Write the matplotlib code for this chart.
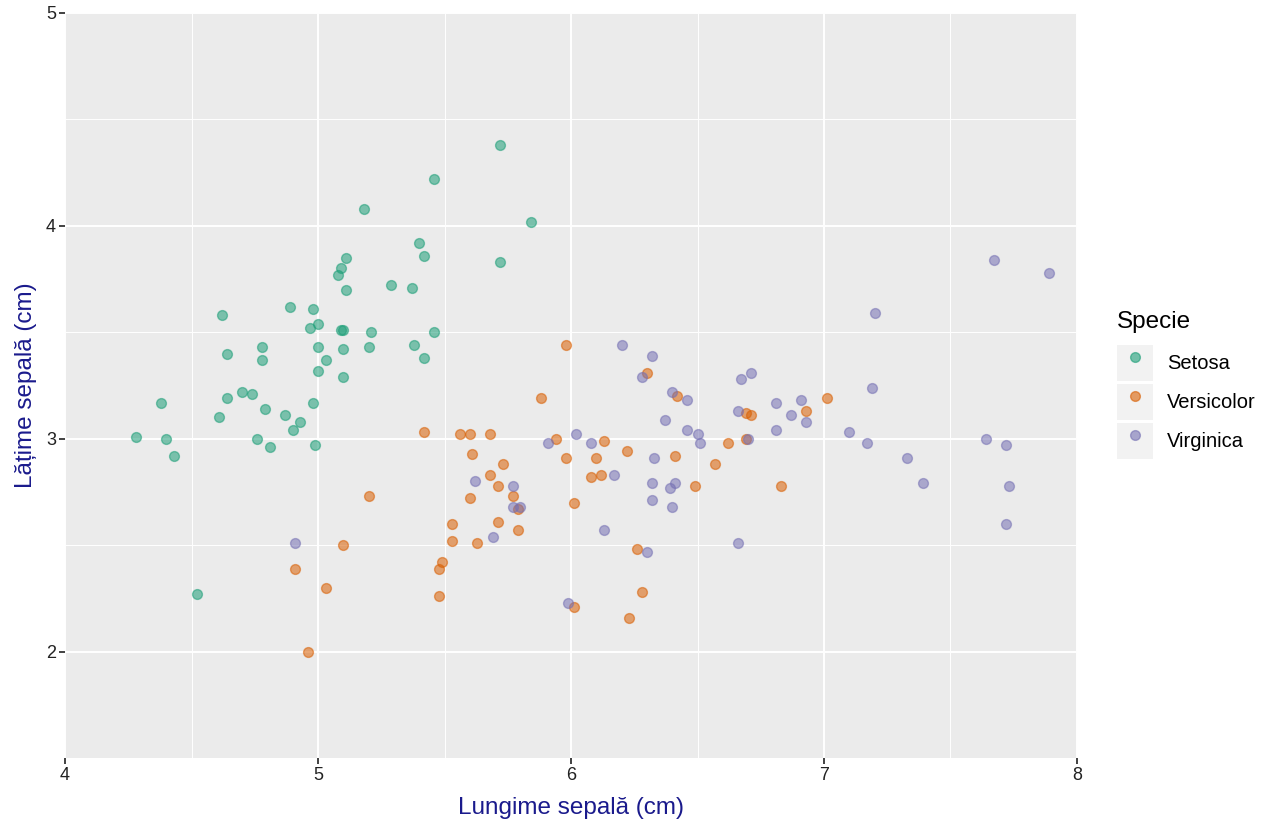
import matplotlib
matplotlib.use("Agg")
import matplotlib.pyplot as plt
from matplotlib.lines import Line2D
from matplotlib.patches import Patch
from matplotlib.legend_handler import HandlerTuple

plt.rcParams["font.family"] = ["Liberation Sans", "DejaVu Sans"]

# sepal length / width per species (jittered points)
setosa_x = [5.72, 5.46, 5.18, 5.84, 5.40, 5.42, 5.72, 5.11, 5.09, 5.08,
            5.11, 5.29, 5.37, 4.62, 4.89, 4.98, 5.00, 4.97, 5.09, 5.10,
            5.21, 5.46, 4.64, 4.78, 4.78, 5.00, 5.10, 5.20, 5.38, 5.42,
            5.03, 5.00, 5.10, 4.38, 4.70, 4.74, 4.64, 4.79, 4.61, 4.98,
            4.87, 4.93, 4.90, 4.28, 4.40, 4.43, 4.76, 4.81, 4.99, 4.52]
setosa_y = [4.38, 4.22, 4.08, 4.02, 3.92, 3.86, 3.83, 3.85, 3.80, 3.77,
            3.70, 3.72, 3.71, 3.58, 3.62, 3.61, 3.54, 3.52, 3.51, 3.51,
            3.50, 3.50, 3.40, 3.43, 3.37, 3.43, 3.42, 3.43, 3.44, 3.38,
            3.37, 3.32, 3.29, 3.17, 3.22, 3.21, 3.19, 3.14, 3.10, 3.17,
            3.11, 3.08, 3.04, 3.01, 3.00, 2.92, 3.00, 2.96, 2.97, 2.27]

versicolor_x = [5.42, 5.56, 5.60, 5.68, 5.61, 5.73, 5.68, 5.71, 5.60, 5.77,
                5.79, 5.53, 5.71, 5.79, 5.53, 5.63, 5.20, 5.10, 4.91, 5.03,
                5.49, 5.48, 5.48, 4.96, 5.94, 5.98, 6.13, 6.10, 6.08, 6.12,
                6.22, 6.01, 6.41, 6.26, 6.28, 6.23, 6.01, 5.98, 5.88, 6.30,
                6.42, 6.57, 6.49, 6.62, 6.69, 6.71, 6.69, 6.93, 7.01, 6.83]
versicolor_y = [3.03, 3.02, 3.02, 3.02, 2.93, 2.88, 2.83, 2.78, 2.72, 2.73,
                2.67, 2.60, 2.61, 2.57, 2.52, 2.51, 2.73, 2.50, 2.39, 2.30,
                2.42, 2.39, 2.26, 2.00, 3.00, 2.91, 2.99, 2.91, 2.82, 2.83,
                2.94, 2.70, 2.92, 2.48, 2.28, 2.16, 2.21, 3.44, 3.19, 3.31,
                3.20, 2.88, 2.78, 2.98, 3.12, 3.11, 3.00, 3.13, 3.19, 2.78]

virginica_x = [4.91, 5.62, 5.77, 5.77, 5.80, 5.69, 5.91, 6.02, 6.08, 6.17,
               6.37, 6.33, 6.32, 6.32, 6.39, 6.41, 6.40, 6.13, 6.30, 5.99,
               6.20, 6.32, 6.28, 6.40, 6.46, 6.46, 6.50, 6.51, 6.66, 6.67,
               6.71, 6.66, 6.70, 6.81, 6.91, 6.87, 6.93, 6.81, 7.10, 7.17,
               7.19, 7.67, 7.89, 7.20, 7.33, 7.39, 7.64, 7.72, 7.73, 7.72]
virginica_y = [2.51, 2.80, 2.78, 2.68, 2.68, 2.54, 2.98, 3.02, 2.98, 2.83,
               3.09, 2.91, 2.79, 2.71, 2.77, 2.79, 2.68, 2.57, 2.47, 2.23,
               3.44, 3.39, 3.29, 3.22, 3.18, 3.04, 3.02, 2.98, 2.51, 3.28,
               3.31, 3.13, 3.00, 3.17, 3.18, 3.11, 3.08, 3.04, 3.03, 2.98,
               3.24, 3.84, 3.78, 3.59, 2.91, 2.79, 3.00, 2.97, 2.78, 2.60]

species = ["Setosa", "Versicolor", "Virginica"]
colors = ["#1B9E77", "#D95F02", "#7570B3"]
xs = [setosa_x, versicolor_x, virginica_x]
ys = [setosa_y, versicolor_y, virginica_y]

fig = plt.figure(figsize=(12.8, 8.32), dpi=100)
ax = fig.add_axes([0.0508, 0.0889, 0.7906, 0.8955])
ax.set_facecolor("#EBEBEB")

for x, y, c in zip(xs, ys, colors):
    ax.scatter(x, y, s=50, color=c, alpha=0.55, edgecolors=c, linewidths=1.0, zorder=3)

ax.set_xlim(4, 8)
ax.set_ylim(1.5, 5)
ax.set_xticks([4, 5, 6, 7, 8])
ax.set_yticks([2, 3, 4, 5])
ax.set_xticks([4.5, 5.5, 6.5, 7.5], minor=True)
ax.set_yticks([2.5, 3.5, 4.5], minor=True)
ax.grid(which="major", color="white", linewidth=1.4)
ax.grid(which="minor", color="white", linewidth=0.7)
ax.set_axisbelow(True)
for sp in ax.spines.values():
    sp.set_visible(False)
ax.tick_params(which="major", length=4.5, width=1.3, color="#333333",
               labelsize=13, labelcolor="#222222", pad=2)
ax.tick_params(which="minor", length=0)

ax.set_xlabel("Lungime sepală (cm)", fontsize=17.5, color="#1A1A8C", labelpad=9)
ax.set_ylabel("Lățime sepală (cm)", fontsize=17.5, color="#1A1A8C", labelpad=6.5)

# legend: title as separate text, keys as grey squares with a dot
fig.text(0.8727, 1 - 322 / 832, "Specie", fontsize=17.5, ha="left", va="center")

handles = []
for c in colors:
    box = Patch(facecolor="#F2F2F2", edgecolor="none")
    dot = Line2D([], [], marker="o", ls="", markersize=7, markerfacecolor=c,
                 markeredgecolor=c, alpha=0.6)
    handles.append((box, dot))

leg = fig.legend(handles, species, loc="upper left", bbox_to_anchor=(0.8727, 1 - 345 / 832),
                 frameon=False, fontsize=14.5, borderaxespad=0,
                 handlelength=1.79, handleheight=2.41,
                 labelspacing=0.124, handletextpad=0.7, borderpad=0,
                 handler_map={tuple: HandlerTuple(ndivide=1, pad=0)})

fig.savefig("out.png", dpi=100)
